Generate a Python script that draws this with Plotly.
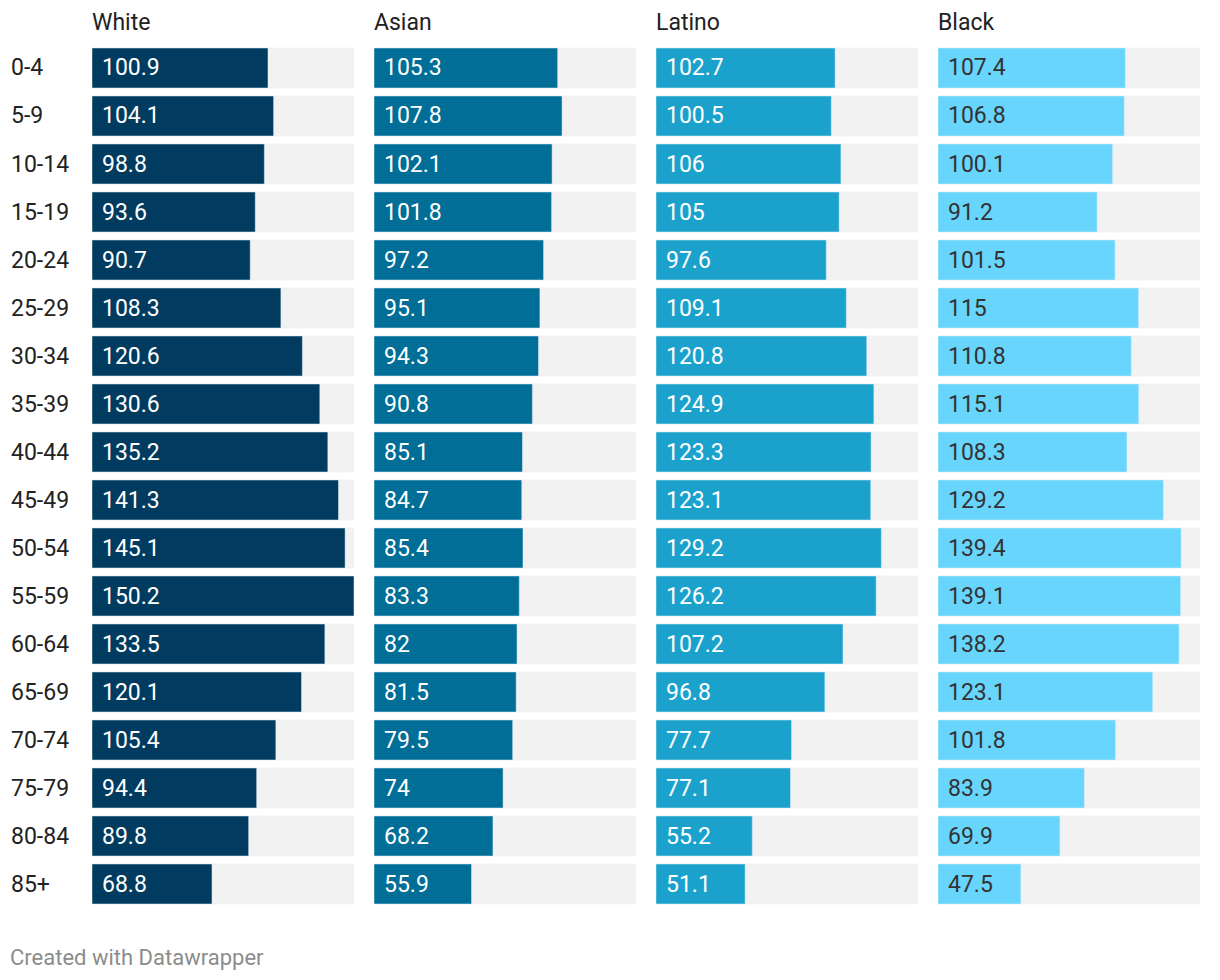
import plotly.graph_objects as go

age_groups = ["0-4", "5-9", "10-14", "15-19", "20-24", "25-29", "30-34", "35-39",
              "40-44", "45-49", "50-54", "55-59", "60-64", "65-69", "70-74", "75-79",
              "80-84", "85+"]
groups = ["White", "Asian", "Latino", "Black"]
white = [100.9, 104.1, 98.8, 93.6, 90.7, 108.3, 120.6, 130.6, 135.2, 141.3, 145.1,
         150.2, 133.5, 120.1, 105.4, 94.4, 89.8, 68.8]
asian = [105.3, 107.8, 102.1, 101.8, 97.2, 95.1, 94.3, 90.8, 85.1, 84.7, 85.4, 83.3,
         82, 81.5, 79.5, 74, 68.2, 55.9]
latino = [102.7, 100.5, 106, 105, 97.6, 109.1, 120.8, 124.9, 123.3, 123.1, 129.2,
          126.2, 107.2, 96.8, 77.7, 77.1, 55.2, 51.1]
black = [107.4, 106.8, 100.1, 91.2, 101.5, 115, 110.8, 115.1, 108.3, 129.2, 139.4,
         139.1, 138.2, 123.1, 101.8, 83.9, 69.9, 47.5]

series = [white, asian, latino, black]
colors = ["#013c60", "#006e96", "#1ba2cc", "#68d5fc"]
text_colors = ["#ffffff", "#ffffff", "#ffffff", "#333333"]

W, H = 1220, 980
panel_left = [92, 374, 656, 938]
panel_w = 262
top_px, bottom_px = 44, 908
vmax = max(max(s) for s in series)
n = len(age_groups)
ypos = list(range(n))

fig = go.Figure()
annotations = []
for i, (name, vals) in enumerate(zip(groups, series)):
    ax = "" if i == 0 else str(i + 1)
    xa, ya = "x" + ax, "y" + ax
    fig.add_trace(go.Bar(x=[vmax] * n, y=ypos, orientation="h", marker_color="#f2f2f2",
                         xaxis=xa, yaxis=ya, hoverinfo="skip", showlegend=False))
    fig.add_trace(go.Bar(x=vals, y=ypos, orientation="h", marker_color=colors[i],
                         xaxis=xa, yaxis=ya, showlegend=False, name=name))
    fig.update_layout(**{
        "xaxis" + ax: dict(domain=[panel_left[i] / W, (panel_left[i] + panel_w) / W],
                           range=[0, vmax], visible=False, fixedrange=True),
        "yaxis" + ax: dict(domain=[1 - bottom_px / H, 1 - top_px / H],
                           range=[n - 0.5, -0.5], visible=False, anchor=xa),
    })
    annotations.append(dict(text=name, xref="paper", yref="paper",
                            x=(panel_left[i] - 2) / W, y=1 - 22 / H, xanchor="left",
                            yanchor="middle", showarrow=False,
                            font=dict(size=23, color="#222222")))
    for j, v in enumerate(vals):
        annotations.append(dict(text=f"{v:g}", xref=xa, yref=ya, x=0, y=j,
                                xanchor="left", yanchor="middle", xshift=8,
                                showarrow=False,
                                font=dict(size=23, color=text_colors[i])))

for j, lab in enumerate(age_groups):
    annotations.append(dict(text=lab, xref="paper", yref="y", x=9 / W, y=j,
                            xanchor="left", yanchor="middle", showarrow=False,
                            font=dict(size=23, color="#222222")))

annotations.append(dict(text="Created with Datawrapper", xref="paper", yref="paper",
                        x=8 / W, y=1 - 957 / H, xanchor="left", yanchor="middle",
                        showarrow=False, font=dict(size=22, color="#8c8c8c")))

fig.update_layout(width=W, height=H, margin=dict(l=0, r=0, t=0, b=0),
                  paper_bgcolor="white", plot_bgcolor="white",
                  barmode="overlay", bargap=8 / 48,
                  font=dict(family="Roboto"),
                  annotations=annotations)
fig.write_html("out.html")
